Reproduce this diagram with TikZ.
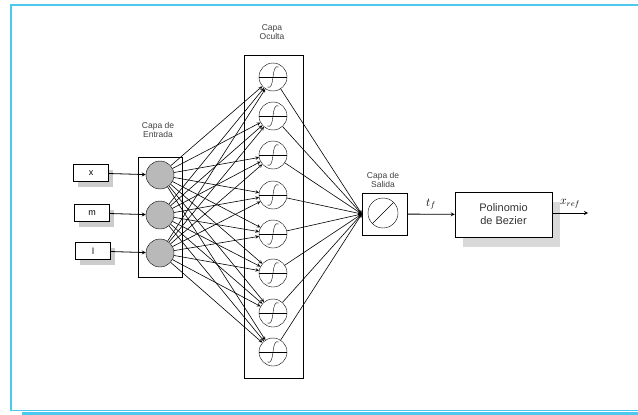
\documentclass[tikz,border=0pt]{standalone}
\usepackage{fontspec}
\setmainfont{Liberation Sans}
\usetikzlibrary{shapes,arrows,positioning,calc,fit,shadows}
\definecolor{framecol}{RGB}{77,201,240}

\begin{document}
\begin{tikzpicture}[x=1pt, y=-1pt, >=stealth,
    inbox/.style={rectangle, draw, fill=white, minimum width=35pt, minimum height=17pt, font=\fontsize{9}{10}\selectfont, drop shadow={shadow xshift=4pt, shadow yshift=-5pt, fill=gray!40, opacity=1}},
    layer/.style={rectangle, draw, fill=white, inner sep=0pt},
    tag/.style={align=center, font=\fontsize{8.5}{9.5}\selectfont, text=black!75},
    neuron/.style={circle, draw, fill=gray!55, minimum size=28pt, inner sep=0pt},
    hidden/.style={circle, draw, fill=white, minimum size=28pt, inner sep=0pt,
        path picture={
            \draw[thick] (path picture bounding box.west) -- (path picture bounding box.east);
            \draw ($(path picture bounding box.center)+(-6pt,-10pt)$) .. controls +(9pt,-4pt) and +(-9pt,4pt) .. ($(path picture bounding box.center)+(6pt,10pt)$);
        }},
    linear/.style={circle, draw, fill=white, minimum size=30pt, inner sep=0pt,
        path picture={
            \draw (path picture bounding box.south west) -- (path picture bounding box.north east);
        }},
    bezier/.style={rectangle, draw, fill=white, minimum width=97pt, minimum height=45pt, align=center, font=\fontsize{11}{13}\selectfont, text=black!80, drop shadow={shadow xshift=8pt, shadow yshift=-10pt, fill=gray!30, opacity=1}}
]
    \useasboundingbox (0,0) rectangle (638,415);

    % Page frame
    \draw[framecol, line width=1.3pt] (11,411) -- (11,5) -- (638,5);
    \draw[framecol, line width=0.8pt] (11,410) -- (638,410);
    \fill[framecol] (22,411.5) rectangle (638,415);

    % Layer boxes
    \node[layer, minimum width=44pt, minimum height=120pt] (inlayer) at (160,217) {};
    \node[layer, minimum width=59pt, minimum height=323pt] (hidlayer) at (273.5,216.5) {};
    \node[layer, minimum width=45pt, minimum height=42pt] (outlayer) at (384.5,214) {};

    % Layer labels
    \node[tag] (tagin) at (158,130) {Capa de\\Entrada};
    \node[tag] (taghid) at (272,32) {Capa\\Oculta};
    \node[tag] (tagout) at (383,180) {Capa de\\Salida};

    % Inputs
    \node[inbox] (inx) at (91,173) {x};
    \node[inbox] (inm) at (92,213) {m};
    \node[inbox] (inl) at (93,251) {l};

    % Input neurons
    \node[neuron] (ne1) at (160,175) {};
    \node[neuron] (ne2) at (160,215) {};
    \node[neuron] (ne3) at (160,253) {};

    % Hidden neurons
    \node[hidden] (h1) at (273,77) {};
    \node[hidden] (h2) at (273,116) {};
    \node[hidden] (h3) at (273,155) {};
    \node[hidden] (h4) at (273,195) {};
    \node[hidden] (h5) at (273,234) {};
    \node[hidden] (h6) at (273,273) {};
    \node[hidden] (h7) at (273,313) {};
    \node[hidden] (h8) at (273,352) {};

    % Output neuron and Bezier block
    \node[linear] (out) at (383,213) {};
    \node[bezier] (bez) at (503.5,214.5) {Polinomio\\de Bezier};
    \coordinate (xend) at (588,213);

    % Connections
    \draw[->, thick] (inx) -- (ne1);
    \draw[->, thick] (inm) -- (ne2);
    \draw[->, thick] (inl) -- (ne3);
    \foreach \i in {1,2,3}
        \foreach \j in {1,...,8}
            \draw[->, semithick] (ne\i) -- (h\j);
    \foreach \j in {1,...,8}
        \draw[->, semithick] (h\j) -- (outlayer.west);
    \draw[->, thick] (outlayer) -- node[above=1pt, font=\large] {$t_f$} (bez);
    \draw[->, thick] (bez.east |- xend) -- node[above=1pt, font=\large] {$x_{ref}$} (xend);
\end{tikzpicture}
\end{document}
